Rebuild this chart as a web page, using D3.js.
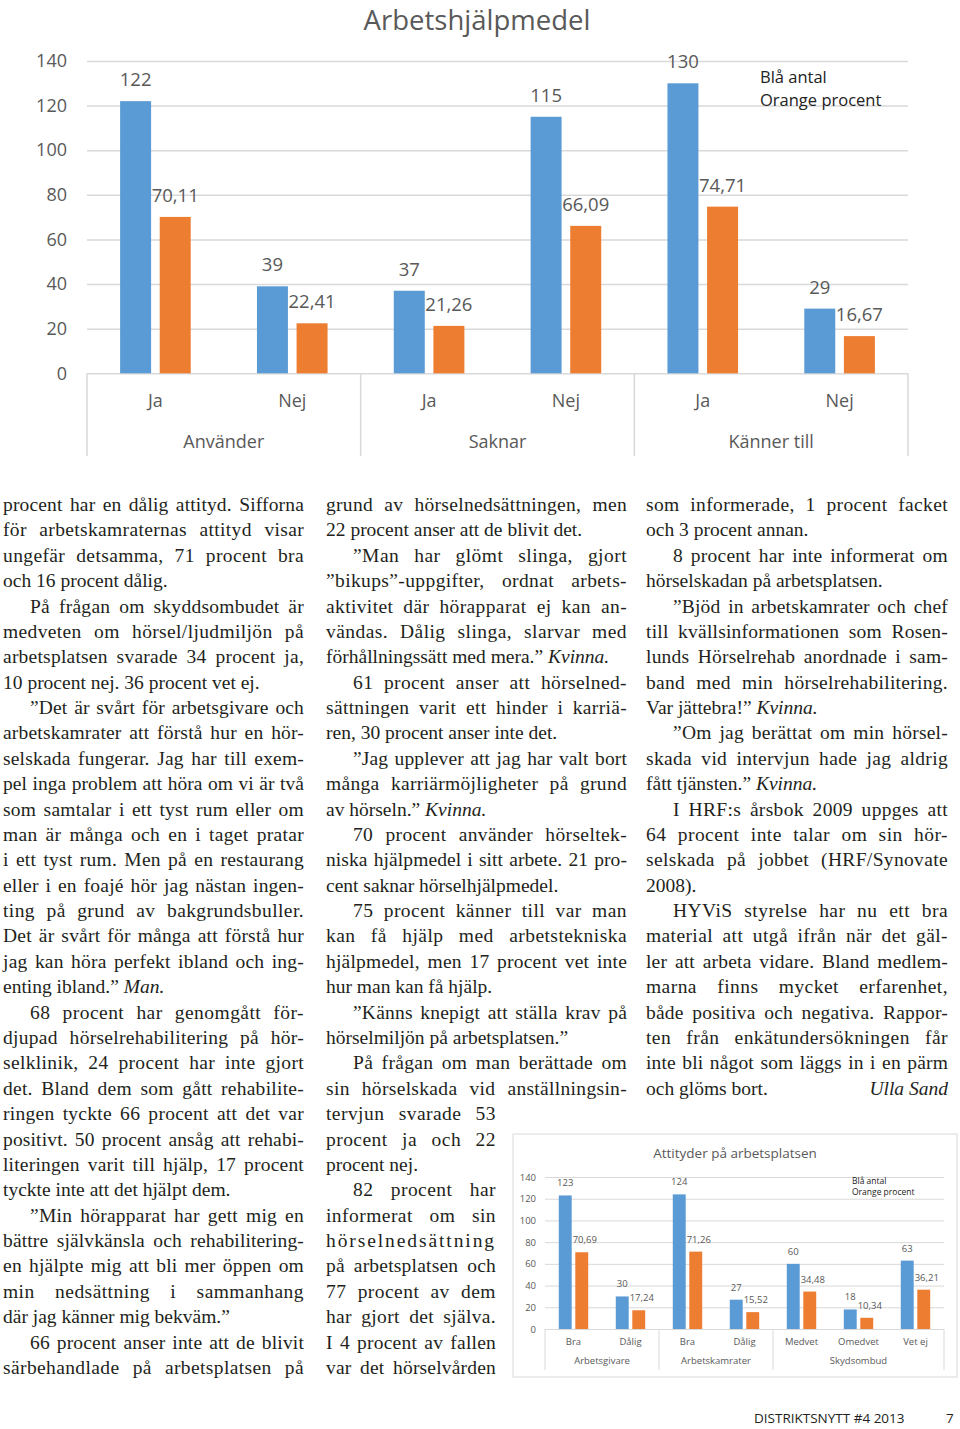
<!DOCTYPE html>
<html><head><meta charset="utf-8">
<script src="https://cdn.jsdelivr.net/npm/d3@7"></script>
<style>body{margin:0;background:#fff}svg{display:block}</style>
</head><body><svg id="c" width="960" height="1429"></svg>
<script>
// ---------- DATA ----------
const mainTitle = "Arbetshjälpmedel";
const mainGroups = ["Använder", "Saknar", "Känner till"];
const mainSubs = ["Ja", "Nej", "Ja", "Nej", "Ja", "Nej"];
const mainGroupOf = [0, 0, 1, 1, 2, 2];
const mainCount = [122, 39, 37, 115, 130, 29];
const mainPct = [70.11, 22.41, 21.26, 66.09, 74.71, 16.67];
const mainTicks = [0, 20, 40, 60, 80, 100, 120, 140];

const smallTitle = "Attityder på arbetsplatsen";
const smallGroups = ["Arbetsgivare", "Arbetskamrater", "Skydsombud"];
const smallSubs = ["Bra", "Dålig", "Bra", "Dålig", "Medvet", "Omedvet", "Vet ej"];
const smallGroupOf = [0, 0, 1, 1, 2, 2, 2];
const smallCount = [123, 30, 124, 27, 60, 18, 63];
const smallPct = [70.69, 17.24, 71.26, 15.52, 34.48, 10.34, 36.21];
const smallTicks = [0, 20, 40, 60, 80, 100, 120, 140];

const legendLines = ["Blå antal", "Orange procent"];

const col1 = [
"procent har en dålig attityd. Sifforna",
"för arbetskamraternas attityd visar",
"ungefär detsamma, 71 procent bra",
"och 16 procent dålig.¶",
">På frågan om skyddsombudet är",
"medveten om hörsel/ljudmiljön på",
"arbetsplatsen svarade 34 procent ja,",
"10 procent nej. 36 procent vet ej.¶",
">”Det är svårt för arbetsgivare och",
"arbetskamrater att förstå hur en hör-",
"selskada fungerar. Jag har till exem-",
"pel inga problem att höra om vi är två",
"som samtalar i ett tyst rum eller om",
"man är många och en i taget pratar",
"i ett tyst rum. Men på en restaurang",
"eller i en foajé hör jag nästan ingen-",
"ting på grund av bakgrundsbuller.",
"Det är svårt för många att förstå hur",
"jag kan höra perfekt ibland och ing-",
"enting ibland.” *Man.*¶",
">68 procent har genomgått för-",
"djupad hörselrehabilitering på hör-",
"selklinik, 24 procent har inte gjort",
"det. Bland dem som gått rehabilite-",
"ringen tyckte 66 procent att det var",
"positivt. 50 procent ansåg att rehabi-",
"literingen varit till hjälp, 17 procent",
"tyckte inte att det hjälpt dem.¶",
">”Min hörapparat har gett mig en",
"bättre självkänsla och rehabilitering-",
"en hjälpte mig att bli mer öppen om",
"min nedsättning i sammanhang",
"där jag känner mig bekväm.”¶",
">66 procent anser inte att de blivit",
"särbehandlade på arbetsplatsen på"
];
const col2 = [
"grund av hörselnedsättningen, men",
"22 procent anser att de blivit det.¶",
">”Man har glömt slinga, gjort",
"”bikups”-uppgifter, ordnat arbets-",
"aktivitet där hörapparat ej kan an-",
"vändas. Dålig slinga, slarvar med",
"förhållningssätt med mera.” *Kvinna.*¶",
">61 procent anser att hörselned-",
"sättningen varit ett hinder i karriä-",
"ren, 30 procent anser inte det.¶",
">”Jag upplever att jag har valt bort",
"många karriärmöjligheter på grund",
"av hörseln.” *Kvinna.*¶",
">70 procent använder hörseltek-",
"niska hjälpmedel i sitt arbete. 21 pro-",
"cent saknar hörselhjälpmedel.¶",
">75 procent känner till var man",
"kan få hjälp med arbetstekniska",
"hjälpmedel, men 17 procent vet inte",
"hur man kan få hjälp.¶",
">”Känns knepigt att ställa krav på",
"hörselmiljön på arbetsplatsen.”¶",
">På frågan om man berättade om",
"sin hörselskada vid anställningsin-",
"tervjun svarade 53",
"procent ja och 22",
"procent nej.¶",
">82 procent har",
"informerat om sin",
"hörselnedsättning",
"på arbetsplatsen och",
"77 procent av dem",
"har gjort det själva.",
"I 4 procent av fallen",
"var det hörselvården"
];
const col3 = [
"som informerade, 1 procent facket",
"och 3 procent annan.¶",
">8 procent har inte informerat om",
"hörselskadan på arbetsplatsen.¶",
">”Bjöd in arbetskamrater och chef",
"till kvällsinformationen som Rosen-",
"lunds Hörselrehab anordnade i sam-",
"band med min hörselrehabilitering.",
"Var jättebra!” *Kvinna.*¶",
">”Om jag berättat om min hörsel-",
"skada vid intervjun hade jag aldrig",
"fått tjänsten.” *Kvinna.*¶",
">I HRF:s årsbok 2009 uppges att",
"64 procent inte talar om sin hör-",
"selskada på jobbet (HRF/Synovate",
"2008).¶",
">HYViS styrelse har nu ett bra",
"material att utgå ifrån när det gäl-",
"ler att arbeta vidare. Bland medlem-",
"marna finns mycket erfarenhet,",
"både positiva och negativa. Rappor-",
"ten från enkätundersökningen får",
"inte bli något som läggs in i en pärm",
"och glöms bort.¶"
];
const signature = "Ulla Sand";
const footerText = "DISTRIKTSNYTT #4 2013";
const pageNumber = "7";

// ---------- DRAW ----------
const svg = d3.select("#c");
svg.append("rect").attr("width", 960).attr("height", 1429).attr("fill", "#fff");
const BLUE = "#5B9BD5", ORANGE = "#ED7D31", GRID = "#d9d9d9", GRAY = "#595959";
const CF = "'Open Sans', 'Noto Sans', sans-serif";
const fmt = v => Number.isInteger(v) ? String(v) : d3.format(".2f")(v).replace(".", ",");

function drawChart(o) {
  const g = svg.append("g");
  const x = d3.scaleBand().domain(d3.range(o.subs.length)).range([o.x0, o.x1]);
  const bw = x.bandwidth();
  const xi = d3.scaleBand().domain(["count", "pct"]).range([bw * 0.242, bw * 0.758]).paddingInner(0.218);
  const y = d3.scaleLinear().domain([0, 140]).range([o.y0, o.y1]);

  if (o.box) g.append("rect").attr("x", o.box[0]).attr("y", o.box[1]).attr("width", o.box[2]).attr("height", o.box[3])
      .attr("fill", "#fff").attr("stroke", GRID).attr("stroke-width", 1);

  g.append("text").attr("x", o.titleX).attr("y", o.titleY).attr("text-anchor", "middle")
    .attr("font-family", CF).attr("font-size", o.titleSize).attr("fill", GRAY).text(o.title);

  const ax = g.append("g").attr("transform", `translate(${o.x0},0)`)
    .call(d3.axisLeft(y).tickValues(o.ticks).tickSize(-(o.x1 - o.x0)).tickPadding(o.tickPad).tickFormat(d3.format("d")));
  ax.select(".domain").remove();
  ax.selectAll(".tick line").attr("stroke", GRID).attr("stroke-width", o.gridW);
  ax.selectAll(".tick text").attr("font-family", CF).attr("font-size", o.tickSize).attr("fill", GRAY);

  const series = [["count", o.count, BLUE], ["pct", o.pct, ORANGE]];
  series.forEach(([k, vals, col]) => {
    g.selectAll(null).data(vals).join("rect")
      .attr("x", (d, i) => x(i) + xi(k)).attr("width", xi.bandwidth())
      .attr("y", d => y(d)).attr("height", d => y(0) - y(d)).attr("fill", col);
    g.selectAll(null).data(vals).join("text")
      .attr("x", (d, i) => x(i) + xi(k) + xi.bandwidth() / 2 + (k === "pct" ? o.pctShift : 0))
      .attr("y", d => y(d) - o.valOff).attr("text-anchor", "middle")
      .attr("font-family", CF).attr("font-size", o.valSize).attr("fill", GRAY).text(fmt);
  });

  // category axis
  g.selectAll(null).data(o.subs).join("text")
    .attr("x", (d, i) => x(i) + bw / 2).attr("y", o.subY).attr("text-anchor", "middle")
    .attr("font-family", CF).attr("font-size", o.catSize).attr("fill", GRAY).text(d => d);
  const bounds = [];
  o.groups.forEach((name, gi) => {
    const idx = o.groupOf.map((v, i) => v === gi ? i : -1).filter(i => i >= 0);
    const a = x(idx[0]), b = x(idx[idx.length - 1]) + bw;
    bounds.push(a, b);
    g.append("text").attr("x", (a + b) / 2).attr("y", o.groupY).attr("text-anchor", "middle")
      .attr("font-family", CF).attr("font-size", o.catSize).attr("fill", GRAY).text(name);
  });
  Array.from(new Set(bounds)).forEach(bx => {
    g.append("line").attr("x1", bx).attr("x2", bx).attr("y1", o.y0).attr("y2", o.axisBottom)
      .attr("stroke", GRID).attr("stroke-width", o.gridW);
  });

  legendLines.forEach((t, i) => {
    g.append("text").attr("x", o.legX).attr("y", o.legY + i * o.legStep)
      .attr("font-family", CF).attr("font-size", o.legSize).attr("fill", "#222").text(t);
  });
}

drawChart({
  title: mainTitle, titleX: 477, titleY: 30, titleSize: 27.5,
  subs: mainSubs, groups: mainGroups, groupOf: mainGroupOf, count: mainCount, pct: mainPct, ticks: mainTicks,
  x0: 87, x1: 908, y0: 373.3, y1: 61, tickPad: 20, tickSize: 18, gridW: 1.5,
  valSize: 18.5, valOff: 15, pctShift: 0, catSize: 18, subY: 407, groupY: 448, axisBottom: 456,
  legX: 760, legY: 83, legStep: 23, legSize: 16.5
});
drawChart({
  title: smallTitle, titleX: 735, titleY: 1158, titleSize: 13.5, box: [513, 1134, 444, 243],
  subs: smallSubs, groups: smallGroups, groupOf: smallGroupOf, count: smallCount, pct: smallPct, ticks: smallTicks,
  x0: 545, x1: 944, y0: 1329, y1: 1177, tickPad: 9, tickSize: 9.5, gridW: 1,
  valSize: 9.5, valOff: 9, pctShift: 3, catSize: 9.5, subY: 1345, groupY: 1364, axisBottom: 1370,
  legX: 852, legY: 1184, legStep: 11, legSize: 8.5
});

// ---------- TEXT COLUMNS ----------
const TF = "'Liberation Serif', 'DejaVu Serif', serif";
const LH = 25.38, FIRST = 511, INDENT = 27, TS = 19.5;
function drawCol(lines, left, right, narrowFrom, narrowRight) {
  const g = svg.append("g").attr("font-family", TF).attr("font-size", TS).attr("fill", "#231f20");
  lines.forEach((raw, i) => {
    let s = raw, ind = false, end = false;
    if (s.startsWith(">")) { ind = true; s = s.slice(1); }
    if (s.endsWith("¶")) { end = true; s = s.slice(0, -1); }
    const xs = left + (ind ? INDENT : 0);
    const r = (narrowFrom != null && i >= narrowFrom) ? narrowRight : right;
    const t = g.append("text").attr("x", xs).attr("y", FIRST + i * LH);
    s.split("*").forEach((seg, k) => {
      if (!seg) return;
      const ts = t.append("tspan").text(seg);
      if (k % 2 === 1) ts.attr("font-style", "italic");
    });
    if (!end) {
      const plain = s.replace(/\*/g, "");
      let w = t.node().getComputedTextLength();
      const sp = (plain.match(/ /g) || []).length;
      if (sp > 0) {
        const extra = r - xs - w;
        const ls = Math.max(-0.25, Math.min(0.45, extra * 0.35 / plain.length));
        t.attr("letter-spacing", ls);
        w = t.node().getComputedTextLength();
        t.attr("word-spacing", (r - xs - w) / sp);
      } else t.attr("letter-spacing", (r - xs - w) / plain.length);
    }
  });
}
drawCol(col1, 3, 304);
drawCol(col2, 326, 627, 24, 496);
drawCol(col3, 646, 948);
svg.append("text").attr("x", 948).attr("y", FIRST + 23 * LH).attr("text-anchor", "end")
  .attr("font-family", TF).attr("font-size", TS).attr("font-style", "italic").attr("fill", "#231f20").text(signature);

// ---------- FOOTER ----------
svg.append("text").attr("x", 754).attr("y", 1423).attr("font-family", CF).attr("font-size", 13.5)
  .attr("fill", "#231f20").text(footerText);
svg.append("text").attr("x", 946).attr("y", 1423).attr("font-family", CF).attr("font-size", 13.5)
  .attr("fill", "#231f20").text(pageNumber);
</script>
</body></html>
